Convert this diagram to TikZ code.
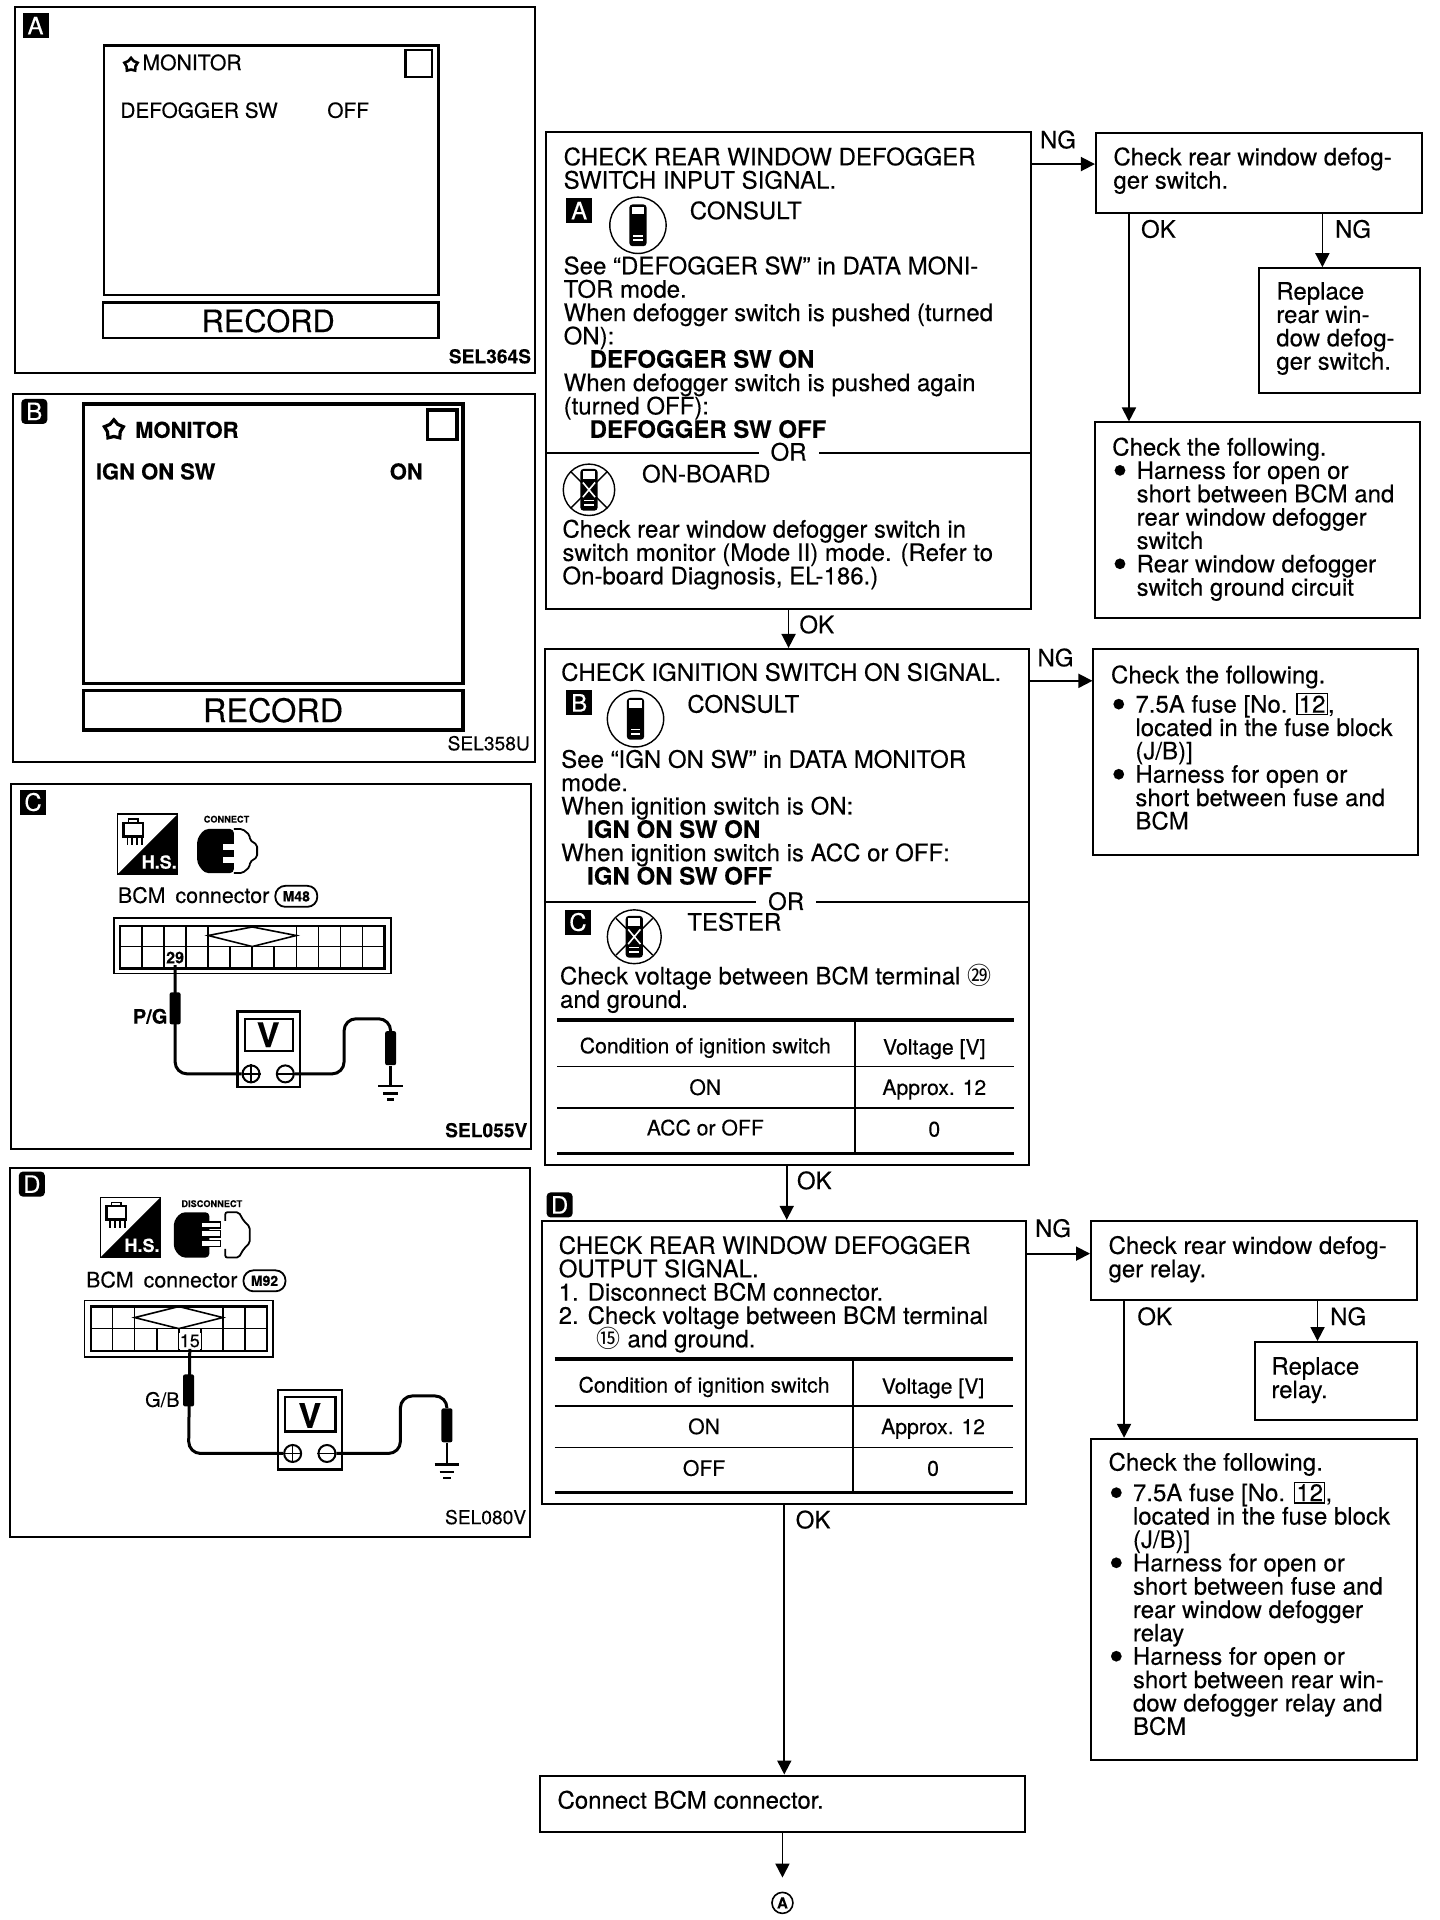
\documentclass[tikz,border=0pt]{standalone}
\usepackage{fontspec}
\setmainfont{TeX Gyre Heros}[FakeBold=0.25]
\newfontfamily\cjkdigits{Noto Sans CJK JP}
\usetikzlibrary{arrows.meta,fit,shapes.geometric}
\lineskiplimit=-20pt
\setlength{\fboxsep}{0.6pt}
\setlength{\fboxrule}{0.6pt}
\tikzset{
  panel/.style={draw,line width=1pt,inner sep=0pt},
  screen/.style={draw,line width=1.2pt,inner sep=0pt},
  heavyscreen/.style={draw,line width=1.7pt,inner sep=0pt},
  flowbox/.style={draw,line width=1pt,inner sep=0pt},
  txt/.style={anchor=north west,inner sep=0pt,align=left,yshift=0.6pt,font=\fontsize{12}{11.68}\selectfont},
  flag/.style={inner sep=0pt,font=\fontsize{12}{12}\selectfont},
  orlabel/.style={fill=white,inner xsep=6pt,inner ysep=0pt,font=\fontsize{12}{12}\selectfont},
  cell/.style={inner sep=0pt,text height=7.6pt,text depth=0pt,font=\fontsize{10.6}{11}\selectfont},
  badge/.style={fill=black,text=white,inner sep=0pt,minimum width=13pt,minimum height=12.5pt,font=\fontsize{12}{12}\selectfont},
  code/.style={anchor=east,inner sep=0pt,font=\fontsize{9.6}{10}\selectfont},
  probe/.style={fill=black,rounded corners=1pt,inner sep=0pt,minimum width=5.5pt,minimum height=16pt},
  pill/.style={draw,line width=0.9pt,rounded corners=5pt,inner sep=0pt,minimum width=21pt,minimum height=10.5pt,font=\bfseries\fontsize{7}{7}\selectfont},
  flow/.style={line width=0.9pt,-{Triangle[length=7pt,width=7pt]}},
  wire/.style={line width=1.5pt,rounded corners=6pt},
  rule/.style={line width=1.8pt},
  thin rule/.style={line width=0.8pt}
}
\newcommand{\bul}{\makebox[12.2pt][l]{\hspace*{0.2pt}\raisebox{-3pt}{\fontsize{21}{21}\selectfont\textbullet}}}
\newcommand{\ind}{\hspace*{12.2pt}}
\newcommand{\fuseno}{\fbox{\fontsize{12}{12}\selectfont 12}}
\newcommand{\testerbody}{
  \fill[rounded corners=1.5pt] (-7,-17) rectangle (7,17);
  \fill[white] (-5,-15) rectangle (5,-9);
  \fill[white] (-4,8) rectangle (4,9.5);
  \fill[white] (-4,11.5) rectangle (4,13);
}
\newcommand{\hsicon}{
  \draw[line width=0.9pt] (0,0) rectangle (49,49);
  \fill (49,0) -- (49,49) -- (0,49) -- cycle;
  \draw[line width=1.2pt] (5,7) rectangle (21,18);
  \draw[line width=0.9pt] (9,4) rectangle (17,7);
  \foreach \wx in {8,12,16,20} \draw[line width=0.8pt] (\wx,18) -- (\wx,25);
  \node[inner sep=0pt,text=white,font=\bfseries\fontsize{9}{10}\selectfont] (hs\hsname) at (34,39) {H.S.};
}
\begin{document}
\begin{tikzpicture}[x=0.6122pt,y=-0.6122pt]
\useasboundingbox (0,0) rectangle (1176,1568);
\node[panel,fit={(12,6)(437,305)}] (panelA) {};
\node[badge] (badgeA) at (29,21) {A};
\node[screen,fit={(85,37)(358,241)}] (screenA) {};
\node[screen,fit={(84,247)(358,276)}] (recordA) {};
\node[inner sep=0pt,font=\fontsize{15.4}{16}\selectfont] (recA) at (219,262) {RECORD};
\node[draw,line width=1.2pt,inner sep=0pt,fit={(331,41)(353,63)}] (squareA) {};
\node[draw,star,star points=5,line width=1.3pt,inner sep=0pt,minimum size=7pt] (starA) at (107,53) {};
\node[txt,anchor=west,font=\fontsize{10.6}{11}\selectfont] (monA) at (116,52) {MONITOR};
\node[txt,anchor=west,font=\fontsize{10.4}{11}\selectfont] (swA) at (98,91) {DEFOGGER SW};
\node[txt,anchor=west,font=\fontsize{10.4}{11}\selectfont] (offA) at (267,91) {OFF};
\node[code] (codeA) at (434,291) {\bfseries SEL364S};

\node[panel,fit={(11,322)(437,622)}] (panelB) {};
\node[badge,rounded corners=2pt] (badgeB) at (28,336) {B};
\node[heavyscreen,fit={(68,330)(378,558)}] (screenB) {};
\node[heavyscreen,fit={(68,564)(378,596)}] (recordB) {};
\node[inner sep=0pt,font=\fontsize{16.2}{17}\selectfont] (recB) at (223,580) {RECORD};
\node[draw,line width=1.8pt,inner sep=0pt,fit={(349,335)(373,359)}] (squareB) {};
\node[draw,star,star points=5,line width=1.6pt,inner sep=0pt,minimum size=10pt] (starB) at (93,351) {};
\node[txt,anchor=west,font=\bfseries\fontsize{11}{11}\selectfont] (monB) at (110,352) {MONITOR};
\node[txt,anchor=west,font=\bfseries\fontsize{11}{11}\selectfont] (swB) at (78,386) {IGN ON SW};
\node[txt,anchor=west,font=\bfseries\fontsize{11}{11}\selectfont] (onB) at (318,386) {ON};
\node[code] (codeB) at (433,607) {SEL358U};

\node[panel,fit={(9,640)(434,938)}] (panelC) {};
\node[badge] (badgeC) at (27,655) {C};
\begin{scope}[shift={(96,665)}]
\def\hsname{C}\hsicon
\end{scope}
\node[inner sep=0pt,font=\bfseries\fontsize{4.6}{5}\selectfont] (connC) at (185,669) {CONNECT};
\fill[rounded corners=2pt] (161,685) -- (167,677) -- (191,677) -- (191,713) -- (167,713) -- (161,705) -- cycle;
\fill[white] (182,689) rectangle (191,694);
\fill[white] (182,700) rectangle (191,705);
\draw[line width=0.9pt,rounded corners=1pt] (191,677) -- (198,677) -- (204,682) -- (204,686) -- (210,690) -- (210,700) -- (204,704) -- (204,708) -- (198,713) -- (191,713);
\node[txt,anchor=west,font=\fontsize{10.7}{11}\selectfont] (bcmC) at (96,732) {BCM\hspace{5pt}connector};
\node[pill] (pillC) at (242,732) {M48};
\draw[line width=0.9pt] (93,750) rectangle (319,795);
\draw[line width=1.1pt] (98,756) rectangle (314,791);
\draw[line width=0.8pt] (98,773) -- (314,773);
\foreach \gx in {116,134,152,170,188,206,224,242,260,278,296} \draw[line width=0.8pt] (\gx,773) -- (\gx,791);
\foreach \gx in {116,134,152,170,242,260,278,296} \draw[line width=0.8pt] (\gx,756) -- (\gx,773);
\draw[line width=0.8pt] (170,764) -- (206,757) -- (242,764) -- (206,773) -- cycle;
\node[fill=white,inner sep=0.6pt,font=\bfseries\fontsize{8}{8}\selectfont] (pinC) at (143,782) {29};
\node[inner sep=0pt,anchor=east,font=\bfseries\fontsize{10}{10}\selectfont] (pgC) at (137,830) {P/G};
\node[draw,line width=1.1pt,inner sep=0pt,fit={(194,826)(245,888)}] (meterC) {};
\node[draw,line width=1.1pt,inner sep=0pt,fit={(200,832)(239,858)}] (dispC) {};
\node[inner sep=0pt,font=\bfseries\fontsize{17}{17}\selectfont] (vC) at (219,845) {V};
\node[draw,circle,line width=1pt,inner sep=0pt,minimum size=8.5pt] (plusC) at (205,877) {};
\node[draw,circle,line width=1pt,inner sep=0pt,minimum size=8.5pt] (minusC) at (233,877) {};
\draw[line width=0.8pt] (plusC.north) -- (plusC.south) (plusC.west) -- (plusC.east) (minusC.west) -- (minusC.east);
\coordinate (gndC) at (319,887);
\node[probe] (probeC) at (143,823.5) {};
\node[probe,minimum height=17pt] (probeCb) at (319,856) {};
\draw[wire] (pinC.south) -- (143,877) -- (plusC.west);
\draw[wire] (minusC.east) -- (281,877) -- (281,832) -- (319,832) -- (probeCb.north);
\draw[line width=1.3pt] (probeCb.south) -- (gndC);
\draw[line width=1.3pt] (gndC) +(-10,0) -- +(10,0);
\draw[line width=1.3pt] (gndC) +(-6,6) -- +(6,6);
\draw[line width=1.3pt] (gndC) +(-3,11) -- +(3,11);
\node[code] (codeC) at (431,923) {\bfseries SEL055V};

\node[panel,fit={(8,954)(433,1255)}] (panelD) {};
\node[badge,rounded corners=2pt] (badgeD) at (26,967) {D};
\begin{scope}[shift={(82,978)}]
\def\hsname{D}\hsicon
\end{scope}
\node[inner sep=0pt,font=\bfseries\fontsize{4.6}{5}\selectfont] (connD) at (173,983) {DISCONNECT};
\fill[rounded corners=2pt] (142,997) -- (148,990) -- (171,990) -- (171,1027) -- (148,1027) -- (142,1020) -- cycle;
\draw[line width=0.9pt,rounded corners=1pt] (184,997) -- (184,990) -- (195,990) -- (199,997) -- (204,1002) -- (204,1015) -- (199,1020) -- (195,1027) -- (184,1027) -- (184,1020);
\foreach \py in {998,1005,1013} \draw[fill=white,line width=0.8pt] (164,\py) rectangle (180,\py+5);
\node[txt,anchor=west,font=\fontsize{10.7}{11}\selectfont] (bcmD) at (70,1046) {BCM\hspace{5pt}connector};
\node[pill] (pillD) at (216,1046) {M92};
\draw[line width=0.9pt] (69,1062) rectangle (223,1108);
\draw[line width=1.1pt] (74,1067) rectangle (218,1103);
\draw[line width=0.8pt] (74,1085) -- (218,1085);
\foreach \gx in {92,110,128,146,164,182,200} \draw[line width=0.8pt] (\gx,1085) -- (\gx,1103);
\foreach \gx in {92,110,182,200} \draw[line width=0.8pt] (\gx,1067) -- (\gx,1085);
\draw[line width=0.8pt] (110,1076) -- (146,1067) -- (182,1076) -- (146,1085) -- cycle;
\node[fill=white,inner sep=0.6pt,font=\fontsize{9}{9}\selectfont] (pinD) at (155,1095) {15};
\node[inner sep=0pt,anchor=east,font=\fontsize{10}{10}\selectfont] (gbD) at (147,1143) {G/B};
\node[draw,line width=1.1pt,inner sep=0pt,fit={(227,1135)(279,1200)}] (meterD) {};
\node[draw,line width=1.1pt,inner sep=0pt,fit={(233,1141)(274,1169)}] (dispD) {};
\node[inner sep=0pt,font=\bfseries\fontsize{17}{17}\selectfont] (vD) at (253,1156) {V};
\node[draw,circle,line width=1pt,inner sep=0pt,minimum size=8.5pt] (plusD) at (239,1187) {};
\node[draw,circle,line width=1pt,inner sep=0pt,minimum size=8.5pt] (minusD) at (267,1187) {};
\draw[line width=0.8pt] (plusD.north) -- (plusD.south) (plusD.west) -- (plusD.east) (minusD.west) -- (minusD.east);
\coordinate (gndD) at (365,1196);
\node[probe] (probeD) at (154,1135.5) {};
\node[probe,minimum height=17pt] (probeDb) at (365,1164) {};
\draw[wire] (pinD.south) -- (154,1187) -- (plusD.west);
\draw[wire] (minusD.east) -- (327,1187) -- (327,1140) -- (365,1140) -- (probeDb.north);
\draw[line width=1.3pt] (probeDb.south) -- (gndD);
\draw[line width=1.3pt] (gndD) +(-10,0) -- +(10,0);
\draw[line width=1.3pt] (gndD) +(-6,6) -- +(6,6);
\draw[line width=1.3pt] (gndD) +(-3,11) -- +(3,11);
\node[code] (codeD) at (430,1239) {SEL080V};

\node[flowbox,fit={(446,108)(842,497)}] (swinput) {};
\node[txt] (swinputhead) at (460,121) {CHECK REAR WINDOW DEFOGGER\\SWITCH INPUT SIGNAL.};
\node[badge] (markA) at (473,172) {A};
\begin{scope}[shift={(521,184)}]
\draw[line width=0.7pt] (0,0) circle (23);
\testerbody
\end{scope}
\node[txt] (consultA) at (563,165) {CONSULT};
\node[txt] (swinputtext) at (460,210) {See “DEFOGGER SW” in DATA MONI-\\TOR mode.\\When defogger switch is pushed (turned\\ON):\\\hspace*{13pt}\textbf{DEFOGGER SW ON}\\When defogger switch is pushed again\\(turned OFF):\\\hspace*{13pt}\textbf{DEFOGGER SW OFF}};
\draw[line width=1pt] (swinput.west |- 0,370) -- (swinput.east |- 0,370);
\node[orlabel] (orA) at (644,369) {OR};
\begin{scope}[shift={(481,400)}]
\draw[line width=0.7pt] (0,0) circle (21);
\draw[line width=0.7pt] (-15,-15) -- (15,15) (15,-15) -- (-15,15);
\testerbody
\draw[white,line width=0.8pt] (-5,-6) -- (5,6) (5,-6) -- (-5,6);
\end{scope}
\node[txt] (onboard) at (524,380) {ON-BOARD};
\node[txt] (onboardtext) at (459,425) {Check rear window defogger switch in\\switch monitor (Mode II) mode. (Refer to\\On-board Diagnosis, EL-186.)};

\node[flowbox,fit={(895,109)(1161,174)}] (swcheck) {};
\node[txt] (swchecktext) at (909,121) {Check rear window defog-\\ger switch.};
\node[flowbox,fit={(1028,219)(1160,321)}] (repsw) {};
\node[txt] (repswtext) at (1042,231) {Replace\\rear win-\\dow defog-\\ger switch.};
\node[flowbox,fit={(894,345)(1160,505)}] (swfollow) {};
\node[txt] (swfollowtext) at (908,358) {Check the following.\\\bul Harness for open or\\\ind short between BCM and\\\ind rear window defogger\\\ind switch\\\bul Rear window defogger\\\ind switch ground circuit};

\node[flowbox,fit={(445,530)(840,951)}] (ignsig) {};
\node[txt] (ignsighead) at (458,542) {CHECK IGNITION SWITCH ON SIGNAL.};
\node[badge] (markB) at (473,574) {B};
\begin{scope}[shift={(519,587)}]
\draw[line width=0.7pt] (0,0) circle (23);
\testerbody
\end{scope}
\node[txt] (consultB) at (561,568) {CONSULT};
\node[txt] (ignsigtext) at (458,613) {See “IGN ON SW” in DATA MONITOR\\mode.\\When ignition switch is ON:\\\hspace*{13pt}\textbf{IGN ON SW ON}\\When ignition switch is ACC or OFF:\\\hspace*{13pt}\textbf{IGN ON SW OFF}};
\draw[line width=1pt] (ignsig.west |- 0,737) -- (ignsig.east |- 0,737);
\node[orlabel] (orB) at (642,736) {OR};
\node[badge] (markC) at (472,753) {C};
\begin{scope}[shift={(518,765)}]
\draw[line width=0.7pt] (0,0) circle (22);
\draw[line width=0.7pt] (-15,-15) -- (15,15) (15,-15) -- (-15,15);
\testerbody
\draw[white,line width=0.8pt] (-5,-6) -- (5,6) (5,-6) -- (-5,6);
\end{scope}
\node[txt] (tester) at (561,746) {TESTER};
\node[txt] (testertext) at (457,788) {Check voltage between BCM terminal {\cjkdigits ㉙}\\and ground.};
\draw[rule] (455,833) -- (828,833);
\draw[thin rule] (455,871) -- (828,871);
\draw[thin rule] (455,905) -- (828,905);
\draw[rule] (455,942) -- (828,942);
\draw[line width=1pt] (698,833) -- (698,942);
\node[cell] (ctitleA) at (576,854) {Condition of ignition switch};
\node[cell] (vtitleA) at (763,855) {Voltage [V]};
\node[cell] (ronA) at (576,888) {ON};
\node[cell] (vonA) at (763,888) {Approx. 12};
\node[cell] (roffA) at (576,921) {ACC or OFF};
\node[cell] (voffA) at (763,922) {0};

\node[flowbox,fit={(893,530)(1158,698)}] (ignfollow) {};
\node[txt] (ignfollowtext) at (907,544) {Check the following.\\[3pt]\bul 7.5A fuse [No. \fuseno,\\\ind located in the fuse block\\\ind (J/B)]\\\bul Harness for open or\\\ind short between fuse and\\\ind BCM};

\node[badge,rounded corners=2pt] (markD) at (457,984) {D};
\node[flowbox,fit={(443,997)(838,1228)}] (outsig) {};
\node[txt] (outsigtext) at (456,1010) {CHECK REAR WINDOW DEFOGGER\\OUTPUT SIGNAL.\\\hspace*{0pt}1. Disconnect BCM connector.\\2. Check voltage between BCM terminal\\\hspace*{19pt}{\cjkdigits ⑮} and ground.};
\draw[rule] (453,1110) -- (827,1110);
\draw[thin rule] (453,1148) -- (827,1148);
\draw[thin rule] (453,1182) -- (827,1182);
\draw[rule] (453,1219) -- (827,1219);
\draw[line width=1pt] (697,1110) -- (697,1219);
\node[cell] (ctitleB) at (575,1131) {Condition of ignition switch};
\node[cell] (vtitleB) at (762,1132) {Voltage [V]};
\node[cell] (ronB) at (575,1165) {ON};
\node[cell] (vonB) at (762,1165) {Approx. 12};
\node[cell] (roffB) at (575,1199) {OFF};
\node[cell] (voffB) at (762,1199) {0};

\node[flowbox,fit={(891,997)(1157,1062)}] (relay) {};
\node[txt] (relaytext) at (905,1010) {Check rear window defog-\\ger relay.};
\node[flowbox,fit={(1025,1096)(1157,1160)}] (reprelay) {};
\node[txt] (reprelaytext) at (1038,1109) {Replace\\relay.};
\node[flowbox,fit={(891,1175)(1157,1437)}] (relayfollow) {};
\node[txt] (relayfollowtext) at (905,1187) {Check the following.\\[3.6pt]\bul 7.5A fuse [No. \fuseno,\\\ind located in the fuse block\\\ind (J/B)]\\\bul Harness for open or\\\ind short between fuse and\\\ind rear window defogger\\\ind relay\\\bul Harness for open or\\\ind short between rear win-\\\ind dow defogger relay and\\\ind BCM};

\node[flowbox,fit={(441,1450)(837,1496)}] (connectbcm) {};
\node[txt] (connecttext) at (455,1463) {Connect BCM connector.};
\node[draw,circle,line width=0.8pt,inner sep=0pt,minimum size=10.5pt,font=\bfseries\fontsize{7.5}{8}\selectfont] (endA) at (639,1554) {A};

\draw[flow] ([yshift=4.6pt]swinput.east |- swcheck.west) -- ([yshift=4.6pt]swcheck.west);
\draw[flow] ([xshift=-64.9pt]swcheck.south) -- ([xshift=-64.9pt]swcheck.south |- swfollow.north);
\draw[flow] ([xshift=-8.6pt]repsw.north |- swcheck.south) -- ([xshift=-8.6pt]repsw.north);
\draw[flow] (swinput.south) -- (swinput.south |- ignsig.north);
\draw[flow] ([yshift=35.5pt]ignsig.east |- ignfollow.west) -- ([yshift=35.5pt]ignfollow.west);
\draw[flow] (ignsig.south) -- (ignsig.south |- outsig.north);
\draw[flow] ([yshift=3.5pt]outsig.east |- relay.west) -- ([yshift=3.5pt]relay.west);
\draw[flow] ([xshift=-64.9pt]relay.south) -- ([xshift=-64.9pt]relay.south |- relayfollow.north);
\draw[flow] ([xshift=-9.2pt]reprelay.north |- relay.south) -- ([xshift=-9.2pt]reprelay.north);
\draw[flow] (outsig.south) -- (outsig.south |- connectbcm.north);
\draw[flow,shorten >=7pt] (connectbcm.south) -- (connectbcm.south |- endA.north);

\node[flag] (ngA) at (864,114) {NG};
\node[flag] (okA) at (946,187) {OK};
\node[flag] (ngB) at (1105,187) {NG};
\node[flag] (okB) at (667,510) {OK};
\node[flag] (ngC) at (862,537) {NG};
\node[flag] (okC) at (665,964) {OK};
\node[flag] (ngD) at (860,1003) {NG};
\node[flag] (okD) at (943,1075) {OK};
\node[flag] (ngE) at (1101,1075) {NG};
\node[flag] (okE) at (664,1241) {OK};
\end{tikzpicture}
\end{document}
